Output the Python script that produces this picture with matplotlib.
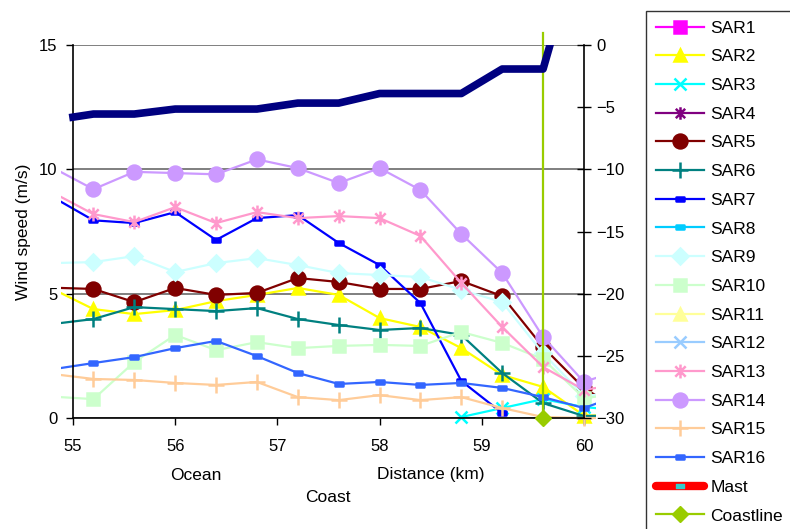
import numpy as np
import matplotlib
matplotlib.use("Agg")
import matplotlib.pyplot as plt
from matplotlib.patches import Rectangle
from matplotlib.path import Path

plt.rcParams['font.family'] = ['Liberation Sans', 'DejaVu Sans']

nan = np.nan

# distance along the track (km)
dist = [54.8, 55.2, 55.6, 56.0, 56.4, 56.8, 57.2, 57.6, 58.0, 58.4, 58.8, 59.2, 59.6, 60.0, 60.4]

# wind speed (m/s) per SAR scene
sar1 = [nan] * 15
sar2 = [5.19, 4.38, 4.18, 4.34, 4.70, 4.95, 5.23, 4.95, 4.02, 3.66, 2.81, 1.73, 1.25, 0.10, 0.10]
sar3 = [nan, nan, nan, nan, nan, nan, nan, nan, nan, nan, 0.04, 0.40, 0.76, 0.44, 0.30]
sar4 = [nan] * 15
sar5 = [5.24, 5.19, 4.66, 5.23, 4.95, 5.03, 5.63, 5.47, 5.19, 5.19, 5.51, 4.90, 2.85, 1.20, 0.20]
sar6 = [3.78, 3.98, 4.46, 4.38, 4.30, 4.42, 3.98, 3.74, 3.54, 3.62, 3.34, 1.81, 0.60, 0.08, 0.10]
sar7 = [8.89, 7.95, 7.84, 8.28, 7.16, 8.04, 8.16, 7.04, 6.15, 4.62, 1.49, 0.20, nan, nan, nan]
sar8 = [nan] * 15
sar9 = [6.23, 6.27, 6.51, 5.87, 6.23, 6.43, 6.15, 5.83, 5.75, 5.67, 5.15, 4.66, 2.60, 0.90, 1.00]
sar10 = [0.86, 0.76, 2.25, 3.34, 2.73, 3.05, 2.81, 2.90, 2.94, 2.90, 3.46, 3.02, 2.37, 0.80, 1.00]
sar11 = [nan] * 15
sar12 = [nan] * 15
sar13 = [9.07, 8.20, 7.88, 8.48, 7.84, 8.28, 8.04, 8.12, 8.04, 7.32, 5.43, 3.66, 2.05, 1.13, 1.40]
sar14 = [10.07, 9.20, 9.90, 9.85, 9.80, 10.40, 10.05, 9.45, 10.05, 9.17, 7.40, 5.83, 3.26, 1.45, 2.00]
sar15 = [1.77, 1.57, 1.53, 1.41, 1.33, 1.45, 0.84, 0.72, 0.92, 0.72, 0.84, 0.40, 0.04, 0.00, 0.00]
sar16 = [1.96, 2.21, 2.45, 2.81, 3.10, 2.49, 1.81, 1.37, 1.45, 1.33, 1.41, 1.21, 0.84, 0.40, 1.00]

# depth profile (right axis)
depth_x = [55.0, 55.2, 55.6, 56.0, 56.4, 56.8, 57.2, 57.6, 58.0, 58.4, 58.8, 59.2, 59.6, 60.0]
depth = [-5.8, -5.55, -5.55, -5.15, -5.15, -5.15, -4.67, -4.67, -3.9, -3.9, -3.9, -1.93, -1.93, 9.5]

coast_x = [59.6, 59.6]
coast_y = [0, 15.5]

# marker shapes
star = Path([(0, -1), (0, 1), (-0.75, -0.75), (0.75, 0.75), (-0.75, 0.75), (0.75, -0.75)],
            [Path.MOVETO, Path.LINETO] * 3)
bar = Path([(-1, -0.45), (1, -0.45), (1, 0.45), (-1, 0.45), (-1, -0.45)],
           [Path.MOVETO, Path.LINETO, Path.LINETO, Path.LINETO, Path.CLOSEPOLY])

series = [
    ("SAR1", sar1, "#FF00FF", "s", 8.5),
    ("SAR2", sar2, "#FFFF00", "^", 9),
    ("SAR3", sar3, "#00FFFF", "x", 9),
    ("SAR4", sar4, "#800080", star, 9),
    ("SAR5", sar5, "#800000", "o", 10),
    ("SAR6", sar6, "#008080", "+", 11),
    ("SAR7", sar7, "#0000FF", bar, 6),
    ("SAR8", sar8, "#00CCFF", bar, 6),
    ("SAR9", sar9, "#CCFFFF", "D", 8),
    ("SAR10", sar10, "#CCFFCC", "s", 9),
    ("SAR11", sar11, "#FFFF99", "^", 9),
    ("SAR12", sar12, "#99CCFF", "x", 9),
    ("SAR13", sar13, "#FF99CC", star, 10),
    ("SAR14", sar14, "#CC99FF", "o", 10),
    ("SAR15", sar15, "#FFCC99", "+", 11),
    ("SAR16", sar16, "#3366FF", bar, 6),
]

fig = plt.figure(figsize=(7.9, 5.29), dpi=100)
ax = fig.add_axes([0.0924, 0.2098, 0.6468, 0.7051])
ax2 = ax.twinx()

ax.set_xlim(55, 60)
ax.set_ylim(0, 15)
ax2.set_ylim(-30, 0)

clip = Rectangle((-0.024, -0.06), 1.048, 1.06, transform=ax.transAxes)
inside = [i for i, d in enumerate(dist) if 55.1 < d < 60.1]

for name, vals, col, mk, ms in series:
    ln, = ax.plot(dist, vals, color=col, lw=1.6, marker=mk, ms=ms, mfc=col, mec=col,
                  mew=1.8, markevery=inside, label=name)
    ln.set_clip_path(clip)

ax.plot([], [], color="#FF0000", lw=6, solid_capstyle="round", marker=bar, ms=6,
        mfc="#33CCCC", mec="#33CCCC", label="Mast")
ax.plot(coast_x, coast_y, color="#99CC00", lw=1.6, marker="D", ms=8, markevery=[0],
        clip_on=False, label="Coastline", zorder=5)

clip2 = Rectangle((-0.024, 0), 1.048, 1.0, transform=ax2.transAxes)
dl, = ax2.plot(depth_x, depth, color="#000080", lw=5.5)
dl.set_clip_path(clip2)

# axes styling
for a in (ax, ax2):
    a.spines['top'].set_visible(False)
ax.spines['right'].set_visible(False)
ax2.spines['left'].set_visible(False)
ax2.spines['bottom'].set_visible(False)
ax2.spines['right'].set_linewidth(1.2)
ax.spines['left'].set_linewidth(1.2)
ax.spines['bottom'].set_linewidth(1.2)

ax.set_yticks([0, 5, 10, 15])
ax.set_xticks([55, 56, 57, 58, 59, 60])
ax2.set_yticks([0, -5, -10, -15, -20, -25, -30])
ax.tick_params(axis='both', direction='out', length=5, width=1, labelsize=12, pad=6)
ax.tick_params(axis='x', pad=10)
ax2.tick_params(axis='y', direction='inout', length=10, width=1, labelsize=12, pad=4)
ax.yaxis.grid(True, color="#6a6a6a", lw=1.2)
ax.set_axisbelow(True)

ax.set_ylabel("Wind speed (m/s)", fontsize=12.5, labelpad=6)

fig.text(196 / 790, 1 - 475 / 529, "Ocean", ha="center", va="center", fontsize=12.5)
fig.text(431 / 790, 1 - 475 / 529, "Distance (km)", ha="center", va="center", fontsize=12.5)
fig.text(328 / 790, 1 - 498 / 529, "Coast", ha="center", va="center", fontsize=12.5)

leg = ax.legend(loc="upper left", bbox_to_anchor=(646 / 790, 1 - 11 / 529),
                bbox_transform=fig.transFigure, fontsize=12.5, frameon=True,
                fancybox=False, edgecolor="black", handlelength=2.8,
                handletextpad=0.35, labelspacing=0.78, borderpad=0.55,
                borderaxespad=0)
leg.get_frame().set_linewidth(1.0)
leg.set_zorder(20)

fig.savefig("out.png", dpi=100)
